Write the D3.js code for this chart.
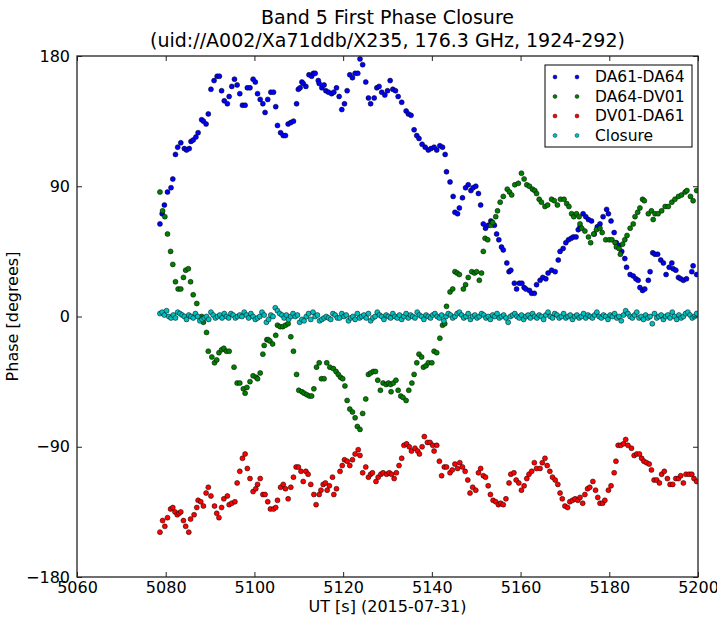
<!DOCTYPE html>
<html>
<head>
    <meta charset="utf-8">
    <title>Band 5 First Phase Closure</title>
    <script src="https://d3js.org/d3.v7.min.js"></script>
    <style>
        body { margin: 0; background: #fff; }
        text { font-family: "DejaVu Sans", sans-serif; fill: #000; }
    </style>
</head>
<body>
    <script>
        // Phase per baseline, [UT seconds, degrees]
        const da61da64 = [[5078.7,64],[5079.2,71],[5079.7,77],[5080.4,86],[5081.2,89],[5081.6,95],[5082.2,112],[5082.7,117],[5083.4,120],[5084.2,116],
            [5084.7,115],[5085.3,116],[5085.7,121],[5086.2,122],[5086.8,124],[5087.3,127],[5088.1,136],[5088.5,135],[5089.1,133],[5089.6,140],
            [5090.2,157],[5090.9,163],[5091.6,166],[5092.1,166],[5092.6,156],[5093.2,149],[5093.9,147],[5094.3,152],[5094.9,159],[5095.5,164],
            [5096.1,160],[5096.7,154],[5097.3,146],[5097.9,146],[5098.4,158],[5099.0,158],[5099.7,164],[5100.2,162],[5100.7,154],[5101.3,150],
            [5101.9,147],[5102.4,141],[5103.0,150],[5103.7,155],[5104.3,155],[5104.8,145],[5105.2,132],[5105.9,127],[5106.5,125],[5107.0,125],
            [5107.6,133],[5108.2,134],[5108.8,135],[5109.5,147],[5109.9,157],[5110.3,158],[5110.7,162],[5111.0,161],[5111.6,159],[5112.3,167],
            [5112.9,166],[5113.3,168],[5113.7,168],[5114.4,163],[5114.6,161],[5115.2,158],[5115.7,160],[5116.1,156],[5116.7,155],[5117.4,154],
            [5117.9,155],[5118.5,158],[5119.1,152],[5119.7,143],[5120.3,147],[5120.9,156],[5121.5,167],[5122.1,165],[5122.7,168],[5123.3,168],
            [5123.8,178],[5124.4,174],[5125.1,162],[5125.7,151],[5126.2,147],[5127.0,151],[5127.6,158],[5128.1,159],[5128.7,155],[5129.4,153],
            [5130.0,156],[5130.6,163],[5131.2,157],[5131.8,156],[5132.4,152],[5133.2,148],[5134.2,142],[5134.7,140],[5135.3,139],[5136.0,129],
            [5136.6,125],[5137.1,123],[5137.8,119],[5138.5,117],[5139.2,115],[5139.8,116],[5140.5,117],[5141.1,115],[5141.8,118],[5142.4,117],
            [5143.0,112],[5143.3,100],[5144.1,93],[5144.8,83],[5145.2,72],[5145.8,71],[5146.2,75],[5146.9,82],[5147.6,89],[5148.2,91],
            [5148.8,87],[5149.3,89],[5149.9,90],[5150.5,85],[5151.0,77],[5151.6,64],[5152.1,61],[5152.7,63],[5153.3,66],[5153.6,65],
            [5154.1,63],[5154.6,57],[5155.1,53],[5155.7,48],[5156.1,46],[5156.9,37],[5157.4,31],[5157.8,32],[5158.6,23],[5159.1,19],
            [5159.7,23],[5160.3,23],[5160.8,20],[5161.2,19],[5162.0,18],[5162.5,16],[5163.1,16],[5163.6,22],[5164.4,25],[5165.0,27],
            [5165.7,26],[5166.2,30],[5167.0,32],[5167.8,31],[5168.5,39],[5168.9,45],[5169.6,47],[5170.2,51],[5170.8,53],[5171.4,54],
            [5171.9,55],[5172.5,55],[5173.0,60],[5173.4,62],[5174.1,71],[5174.7,69],[5175.3,67],[5176.0,66],[5176.6,57],[5177.3,62],
            [5177.9,64],[5178.6,69],[5179.4,74],[5179.8,71],[5180.4,66],[5181.1,58],[5181.6,51],[5182.2,49],[5182.8,45],[5183.5,40],
            [5183.9,34],[5184.7,29],[5185.4,28],[5186.0,26],[5186.5,25],[5186.9,20],[5187.5,18],[5188.0,19],[5188.8,25],[5189.2,31],
            [5189.8,44],[5190.3,43],[5190.9,43],[5191.6,39],[5192.2,37],[5192.8,29],[5193.5,34],[5194.1,37],[5194.4,33],[5195.0,32],
            [5195.6,27],[5196.1,26],[5196.7,25],[5197.4,26],[5198.6,31],[5198.9,35],[5199.7,29]];

        const da64dv01 = [[5078.7,86],[5079.3,73],[5079.8,69],[5080.4,57],[5081.1,45],[5081.6,36],[5082.2,24],[5082.8,19],[5083.4,19],[5084.0,27],
            [5084.5,32],[5085.1,33],[5085.6,24],[5086.2,15],[5087.0,9],[5088.1,0],[5088.5,-4],[5089.2,-11],[5089.6,-24],[5090.4,-28],
            [5091.0,-32],[5091.5,-30],[5092.0,-25],[5092.6,-23],[5093.1,-22],[5093.7,-24],[5094.3,-24],[5095.4,-35],[5096.1,-46],[5096.7,-46],
            [5097.5,-50],[5097.9,-53],[5098.3,-49],[5099.0,-45],[5099.7,-41],[5100.4,-42],[5100.7,-43],[5101.3,-39],[5101.9,-26],[5102.2,-20],
            [5102.8,-16],[5103.1,-16],[5103.5,-17],[5104.1,-19],[5104.8,-13],[5105.2,-6],[5105.8,-7],[5106.4,-7],[5107.0,-6],[5107.6,-5],
            [5108.2,-14],[5108.8,-24],[5109.5,-40],[5110.0,-51],[5110.7,-52],[5111.2,-53],[5111.8,-54],[5112.4,-55],[5112.9,-55],[5113.4,-50],
            [5114.0,-35],[5114.6,-32],[5115.1,-43],[5115.7,-43],[5116.3,-32],[5117.0,-35],[5117.8,-36],[5118.4,-38],[5118.9,-40],[5119.4,-42],
            [5119.9,-43],[5120.4,-48],[5120.9,-58],[5121.5,-64],[5122.1,-66],[5122.7,-70],[5123.2,-76],[5123.8,-78],[5124.4,-67],[5125.1,-57],
            [5125.7,-40],[5126.2,-39],[5126.8,-38],[5127.3,-38],[5127.8,-44],[5128.4,-51],[5129.0,-46],[5129.7,-47],[5130.2,-46],[5130.7,-47],
            [5130.8,-52],[5131.3,-46],[5131.9,-44],[5132.4,-51],[5133.0,-55],[5133.5,-56],[5134.2,-58],[5134.8,-51],[5135.5,-46],[5136.0,-40],
            [5136.6,-32],[5137.1,-26],[5137.7,-28],[5138.1,-35],[5138.7,-34],[5139.2,-32],[5140.0,-32],[5140.5,-24],[5141.1,-25],[5141.8,-15],
            [5142.4,-6],[5142.9,-5],[5143.3,7],[5144.1,17],[5144.7,19],[5145.2,31],[5145.7,30],[5146.2,29],[5147.1,19],[5147.6,22],
            [5148.2,27],[5149.0,31],[5149.6,30],[5150.1,31],[5150.7,25],[5151.2,30],[5151.6,45],[5152.0,54],[5152.6,53],[5153.3,63],
            [5153.7,65],[5154.4,69],[5154.8,73],[5155.4,79],[5156.1,83],[5157.0,88],[5157.5,86],[5158.0,84],[5158.7,91],[5159.5,92],
            [5160.2,99],[5160.8,95],[5161.4,91],[5162.0,90],[5162.7,88],[5163.2,87],[5163.6,85],[5164.2,81],[5164.7,79],[5165.5,76],
            [5166.1,77],[5167.0,81],[5167.6,80],[5168.3,77],[5169.0,81],[5169.8,81],[5170.4,78],[5170.9,76],[5171.5,71],[5172.0,69],
            [5172.6,71],[5173.2,69],[5173.4,64],[5173.8,61],[5174.5,59],[5175.3,55],[5175.8,51],[5176.5,57],[5177.1,60],[5177.9,61],
            [5178.4,58],[5179.2,53],[5180.0,53],[5180.6,53],[5181.3,51],[5181.6,48],[5182.2,47],[5182.5,43],[5183.0,50],[5183.5,53],
            [5184.0,56],[5184.7,61],[5185.4,64],[5185.8,69],[5186.4,72],[5186.9,75],[5187.5,81],[5187.9,80],[5188.8,71],[5189.5,73],
            [5189.9,67],[5190.3,71],[5191.0,71],[5191.8,73],[5192.6,76],[5193.3,76],[5194.1,79],[5194.8,81],[5195.6,83],[5196.3,84],
            [5197.1,86],[5197.5,87],[5198.3,83],[5198.9,80],[5199.7,87]];

        const dv01da61 = [[5078.7,-149],[5079.3,-141],[5079.8,-145],[5080.4,-139],[5081.1,-133],[5081.6,-132],[5082.1,-135],[5082.6,-137],[5083.0,-136],[5083.4,-135],
            [5084.0,-141],[5084.5,-145],[5085.2,-149],[5085.6,-140],[5086.4,-137],[5087.0,-132],[5087.3,-127],[5087.9,-128],[5088.5,-131],[5089.1,-122],
            [5089.6,-118],[5090.2,-124],[5091.0,-131],[5091.5,-136],[5092.0,-139],[5092.6,-132],[5093.1,-126],[5093.9,-124],[5094.3,-130],[5094.9,-129],
            [5095.6,-128],[5096.1,-115],[5096.7,-107],[5097.3,-98],[5097.9,-95],[5098.4,-105],[5099.0,-112],[5099.7,-121],[5100.3,-119],[5100.7,-116],
            [5101.3,-112],[5101.9,-123],[5102.4,-123],[5103.0,-128],[5103.6,-133],[5104.3,-133],[5104.8,-132],[5105.2,-127],[5105.9,-118],[5106.5,-116],
            [5107.0,-119],[5107.6,-126],[5108.2,-118],[5108.8,-111],[5109.4,-104],[5109.9,-104],[5110.5,-107],[5111.0,-114],[5111.6,-107],[5112.1,-109],
            [5112.7,-116],[5113.4,-123],[5113.9,-130],[5114.6,-123],[5115.0,-120],[5115.5,-116],[5116.0,-115],[5116.4,-120],[5116.9,-117],[5117.6,-111],
            [5117.9,-123],[5118.5,-119],[5119.3,-107],[5119.8,-103],[5120.3,-99],[5120.9,-100],[5121.5,-103],[5122.1,-99],[5122.7,-95],[5123.4,-92],
            [5123.8,-96],[5124.4,-108],[5125.1,-104],[5125.7,-111],[5126.2,-109],[5126.6,-108],[5127.4,-114],[5127.9,-111],[5128.5,-109],[5129.0,-108],
            [5129.8,-109],[5130.4,-108],[5130.9,-109],[5131.5,-112],[5132.0,-108],[5132.6,-103],[5133.2,-98],[5133.7,-89],[5134.3,-88],[5134.9,-90],
            [5135.4,-93],[5136.2,-91],[5136.8,-93],[5137.2,-95],[5137.8,-90],[5138.3,-83],[5139.0,-87],[5139.6,-87],[5140.2,-89],[5140.5,-93],
            [5141.1,-89],[5141.7,-100],[5142.2,-110],[5142.8,-104],[5143.3,-104],[5144.1,-108],[5144.6,-106],[5145.2,-102],[5145.8,-105],[5146.3,-101],
            [5146.9,-104],[5147.5,-107],[5148.1,-113],[5148.6,-122],[5149.2,-118],[5149.9,-120],[5150.5,-108],[5151.0,-105],[5151.6,-110],[5152.1,-111],
            [5152.7,-117],[5153.2,-123],[5153.8,-127],[5154.4,-128],[5155.0,-130],[5155.5,-129],[5156.1,-130],[5156.7,-126],[5157.4,-115],[5157.8,-109],
            [5158.5,-108],[5159.0,-113],[5159.6,-115],[5160.2,-120],[5160.8,-117],[5161.4,-112],[5161.9,-109],[5162.5,-107],[5163.1,-101],[5163.6,-105],
            [5164.4,-105],[5164.9,-101],[5165.5,-98],[5166.0,-103],[5166.6,-107],[5167.2,-111],[5167.8,-113],[5168.4,-116],[5168.9,-122],[5169.4,-126],
            [5170.0,-131],[5170.6,-132],[5171.1,-128],[5171.7,-127],[5172.3,-126],[5172.9,-127],[5173.4,-125],[5174.0,-129],[5174.5,-123],[5175.1,-119],
            [5175.6,-118],[5176.3,-114],[5176.9,-120],[5177.4,-125],[5177.9,-129],[5178.5,-129],[5179.0,-127],[5179.8,-120],[5180.4,-117],[5181.1,-108],
            [5181.5,-100],[5182.0,-89],[5182.6,-89],[5183.2,-88],[5183.7,-85],[5184.2,-89],[5185.0,-91],[5185.6,-96],[5186.2,-95],[5186.8,-95],
            [5187.3,-98],[5187.8,-100],[5188.4,-101],[5189.0,-102],[5189.5,-106],[5190.1,-113],[5190.7,-113],[5191.3,-115],[5191.8,-109],[5192.4,-107],
            [5193.1,-112],[5193.7,-116],[5194.3,-116],[5195.0,-112],[5195.6,-112],[5196.1,-110],[5196.7,-115],[5197.3,-109],[5198.0,-109],[5198.6,-109],
            [5199.1,-112],[5199.7,-114]];

        const closure = [[5078.7,2],[5079.2,3],[5079.7,1],[5080.2,4],[5080.7,0],[5081.2,-1],[5081.7,1],[5082.2,-1],[5082.7,3],[5083.2,2],
            [5083.7,1],[5084.2,0],[5084.7,-2],[5085.2,1],[5085.7,0],[5086.2,-1],[5086.7,2],[5087.2,0],[5087.7,-3],[5088.2,-2],
            [5088.7,-1],[5089.2,0],[5089.7,-2],[5090.2,3],[5090.7,1],[5091.2,-1],[5091.7,0],[5092.2,1],[5092.7,-1],[5093.2,2],
            [5093.7,0],[5094.2,-1],[5094.7,2],[5095.2,1],[5095.7,-1],[5096.2,0],[5096.7,1],[5097.2,0],[5097.7,3],[5098.2,1],
            [5098.7,-1],[5099.2,2],[5099.7,0],[5100.2,-2],[5100.7,-1],[5101.2,0],[5101.7,3],[5102.2,1],[5102.7,-4],[5103.2,-2],
            [5103.7,1],[5104.2,0],[5104.7,6],[5105.2,4],[5105.7,2],[5106.2,1],[5106.7,-1],[5107.2,1],[5107.7,-2],[5108.2,0],
            [5108.7,2],[5109.2,0],[5109.7,1],[5110.2,-4],[5110.7,-2],[5111.2,-3],[5111.7,0],[5112.2,2],[5112.7,-2],[5113.2,3],
            [5113.7,0],[5114.2,1],[5114.7,-3],[5115.2,-2],[5115.7,-1],[5116.2,0],[5116.7,-1],[5117.2,-2],[5117.7,2],[5118.2,1],
            [5118.7,-1],[5119.2,-1],[5119.7,2],[5120.2,0],[5120.7,1],[5121.2,-3],[5121.7,-1],[5122.2,0],[5122.7,-2],[5123.2,2],
            [5123.7,-1],[5124.2,0],[5124.7,1],[5125.2,-1],[5125.7,2],[5126.2,-3],[5126.7,-1],[5127.2,0],[5127.7,3],[5128.2,1],
            [5128.7,0],[5129.2,-2],[5129.7,1],[5130.2,0],[5130.7,-1],[5131.2,2],[5131.7,0],[5132.2,-1],[5132.7,1],[5133.2,-2],
            [5133.7,0],[5134.2,2],[5134.7,-1],[5135.2,1],[5135.7,0],[5136.2,-1],[5136.7,3],[5137.2,1],[5137.7,0],[5138.2,-2],
            [5138.7,1],[5139.2,0],[5139.7,-1],[5140.2,1],[5140.7,2],[5141.2,0],[5141.7,-1],[5142.2,1],[5142.7,-3],[5143.2,0],
            [5143.7,2],[5144.2,1],[5144.7,-1],[5145.2,0],[5145.7,2],[5146.2,3],[5146.7,1],[5147.2,-1],[5147.7,0],[5148.2,2],
            [5148.7,-2],[5149.2,0],[5149.7,1],[5150.2,-1],[5150.7,0],[5151.2,2],[5151.7,1],[5152.2,-1],[5152.7,0],[5153.2,-2],
            [5153.7,1],[5154.2,0],[5154.7,2],[5155.2,-1],[5155.7,0],[5156.2,1],[5156.7,-1],[5157.2,-4],[5157.7,0],[5158.2,1],
            [5158.7,2],[5159.2,0],[5159.7,-1],[5160.2,1],[5160.7,-2],[5161.2,0],[5161.7,1],[5162.2,-1],[5162.7,2],[5163.2,0],
            [5163.7,-1],[5164.2,1],[5164.7,0],[5165.2,-2],[5165.7,1],[5166.2,3],[5166.7,0],[5167.2,-1],[5167.7,2],[5168.2,1],
            [5168.7,-1],[5169.2,0],[5169.7,2],[5170.2,-1],[5170.7,0],[5171.2,1],[5171.7,-2],[5172.2,0],[5172.7,1],[5173.2,-1],
            [5173.7,0],[5174.2,2],[5174.7,-1],[5175.2,1],[5175.7,0],[5176.2,-1],[5176.7,1],[5177.2,3],[5177.7,0],[5178.2,-1],
            [5178.7,1],[5179.2,0],[5179.7,-2],[5180.2,1],[5180.7,0],[5181.2,2],[5181.7,-1],[5182.2,0],[5182.7,-3],[5183.2,1],
            [5183.7,4],[5184.2,2],[5184.7,0],[5185.2,-1],[5185.7,1],[5186.2,3],[5186.7,-1],[5187.2,0],[5187.7,-2],[5188.2,1],
            [5188.7,-1],[5189.2,0],[5189.7,-5],[5190.2,2],[5190.7,-1],[5191.2,0],[5191.7,1],[5192.2,-2],[5192.7,0],[5193.2,1],
            [5193.7,-1],[5194.2,3],[5194.7,0],[5195.2,-2],[5195.7,1],[5196.2,-1],[5196.7,0],[5197.2,2],[5197.7,3],[5198.2,1],
            [5198.7,-1],[5199.2,0],[5199.7,2]];

        const seriesNames = ["DA61-DA64", "DA64-DV01", "DV01-DA61", "Closure"];
        const seriesColors = ["#0000ff", "#008000", "#ff0000", "#00bfbf"];
        const seriesData = [da61da64, da64dv01, dv01da61, closure];

        const xTicks = [5060, 5080, 5100, 5120, 5140, 5160, 5180, 5200];
        const yTicks = [-180, -90, 0, 90, 180];

        // Figure size and plot box
        const width = 717, height = 619;
        const box = { left: 77, right: 698, top: 56, bottom: 577 };

        const svg = d3.select("body")
            .append("svg")
            .attr("width", width)
            .attr("height", height);

        svg.append("rect")
            .attr("width", width)
            .attr("height", height)
            .attr("fill", "#fff");

        const x = d3.scaleLinear().domain([5060, 5200]).range([box.left, box.right]);
        const y = d3.scaleLinear().domain([-180, 180]).range([box.bottom, box.top]);

        // Scatter points, drawn in legend order
        svg.append("clipPath").attr("id", "plotclip")
            .append("rect")
            .attr("x", box.left).attr("y", box.top)
            .attr("width", box.right - box.left).attr("height", box.bottom - box.top);

        const plot = svg.append("g").attr("clip-path", "url(#plotclip)");

        seriesData.forEach((data, i) => {
            plot.append("g")
                .selectAll("circle")
                .data(data)
                .enter()
                .append("circle")
                .attr("cx", d => x(d[0]))
                .attr("cy", d => y(d[1]))
                .attr("r", 2.5)
                .attr("fill", seriesColors[i])
                .attr("stroke", "#000")
                .attr("stroke-width", 0.5);
        });

        // Axes: ticks point inwards on all four sides (classic matplotlib look)
        const tickLen = 5;
        const fmt = d3.format("d");
        svg.append("g")
            .attr("transform", `translate(0,${box.bottom})`)
            .call(d3.axisBottom(x).tickValues(xTicks).tickFormat(fmt).tickSizeInner(-tickLen).tickSizeOuter(0).tickPadding(5))
            .call(g => g.select(".domain").remove());
        svg.append("g")
            .attr("transform", `translate(0,${box.top})`)
            .call(d3.axisTop(x).tickValues(xTicks).tickSizeInner(-tickLen).tickSizeOuter(0).tickFormat(""))
            .call(g => g.select(".domain").remove());
        svg.append("g")
            .attr("transform", `translate(${box.left},0)`)
            .call(d3.axisLeft(y).tickValues(yTicks).tickFormat(fmt).tickSizeInner(-tickLen).tickSizeOuter(0).tickPadding(7))
            .call(g => g.select(".domain").remove());
        svg.append("g")
            .attr("transform", `translate(${box.right},0)`)
            .call(d3.axisRight(y).tickValues(yTicks).tickSizeInner(-tickLen).tickSizeOuter(0).tickFormat(""))
            .call(g => g.select(".domain").remove());

        svg.selectAll(".tick line").attr("stroke", "#222").attr("stroke-width", 1);
        svg.selectAll(".tick text")
            .attr("font-family", "DejaVu Sans")
            .attr("font-size", 16)
            .attr("fill", "#000");

        // Plot frame
        svg.append("rect")
            .attr("x", box.left).attr("y", box.top)
            .attr("width", box.right - box.left).attr("height", box.bottom - box.top)
            .attr("fill", "none")
            .attr("stroke", "#222")
            .attr("stroke-width", 1.3);

        // Titles and axis labels
        svg.append("text")
            .attr("x", (box.left + box.right) / 2).attr("y", 24)
            .attr("text-anchor", "middle")
            .style("font-size", "19px")
            .text("Band 5 First Phase Closure");
        svg.append("text")
            .attr("x", (box.left + box.right) / 2).attr("y", 47)
            .attr("text-anchor", "middle")
            .style("font-size", "19px")
            .text("(uid://A002/Xa71ddb/X235, 176.3 GHz, 1924-292)");
        svg.append("text")
            .attr("x", (box.left + box.right) / 2).attr("y", 612)
            .attr("text-anchor", "middle")
            .style("font-size", "16px")
            .text("UT [s] (2015-07-31)");
        svg.append("text")
            .attr("transform", `translate(18,${(box.top + box.bottom) / 2}) rotate(-90)`)
            .attr("text-anchor", "middle")
            .style("font-size", "16px")
            .text("Phase [degrees]");

        // Legend with two markers per entry
        const legend = svg.append("g").attr("transform", "translate(545,65)");
        legend.append("rect")
            .attr("width", 147).attr("height", 82)
            .attr("fill", "#fff")
            .attr("stroke", "#000")
            .attr("stroke-width", 1);

        const rows = legend.selectAll(".row")
            .data(seriesNames)
            .enter()
            .append("g")
            .attr("class", "row")
            .attr("transform", (d, i) => `translate(0,${12 + i * 19.5})`);

        rows.selectAll("circle")
            .data((d, i) => [10, 32].map(cx => ({ cx: cx, i: i })))
            .enter()
            .append("circle")
            .attr("cx", d => d.cx)
            .attr("cy", 0)
            .attr("r", 2)
            .attr("fill", d => seriesColors[d.i])
            .attr("stroke", "#000")
            .attr("stroke-width", 0.4);

        rows.append("text")
            .attr("x", 50)
            .attr("dy", "0.35em")
            .style("font-size", "15.5px")
            .text(d => d);
    </script>
</body>
</html>
